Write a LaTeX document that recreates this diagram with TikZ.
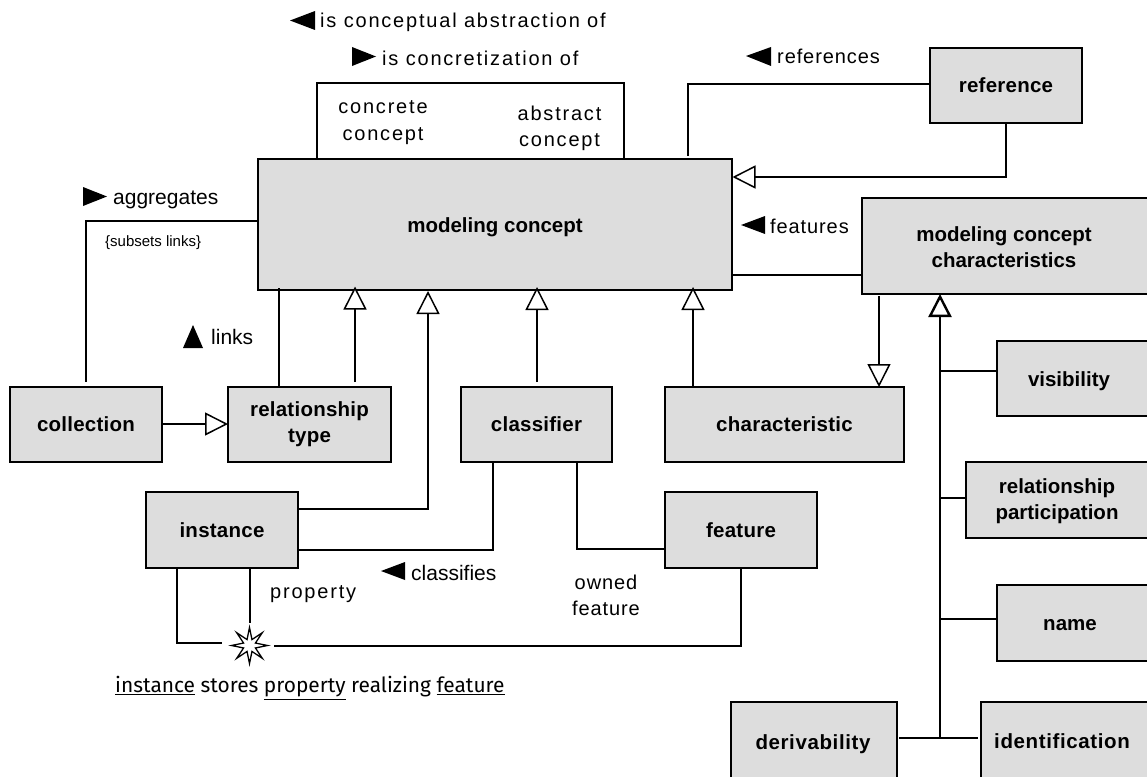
\documentclass[tikz,border=0pt]{standalone}
\usepackage{fontspec}
\setmainfont{Liberation Sans}
\newfontfamily\capfont{Fira Sans}
\usetikzlibrary{arrows.meta,shapes.geometric}
\definecolor{boxgray}{RGB}{221,221,221}
\tikzset{
  x=1pt,y=1pt,
  box/.style={draw=black,line width=1.5pt,fill=boxgray,anchor=north west,inner sep=0pt,outer sep=0pt,align=center,font=\fontsize{20.5}{26}\selectfont\bfseries\addfontfeatures{LetterSpace=1.2}},
  boxt/.style={inner sep=0pt,align=center,font=\fontsize{20.5}{26}\selectfont\bfseries},
  boxw/.style={inner sep=0pt,align=center,font=\fontsize{20.5}{26}\selectfont\bfseries\addfontfeatures{LetterSpace=3}},
  conn/.style={draw=black,line width=1.5pt},
  gen/.style={conn,-{Triangle[open,length=23pt,width=23pt,fill=white,line width=1.5pt]}},
  genthick/.style={draw=black,line width=2.4pt,-{Triangle[open,length=23pt,width=23pt,fill=white,line width=2.4pt]}},
  lbl/.style={inner sep=0pt,align=center,font=\fontsize{20}{26.5}\selectfont\addfontfeatures{LetterSpace=9}},
  lbln/.style={inner sep=0pt,align=center,font=\fontsize{20}{26.5}\selectfont\addfontfeatures{LetterSpace=4.5}},
  lblp/.style={inner sep=0pt,align=left,anchor=west,font=\fontsize{21}{26}\selectfont},
  tri/.style={fill=black,draw=none},
}
\begin{document}
\begin{tikzpicture}[yscale=-1]
\useasboundingbox (0,0) rectangle (1147,776);
% boxes
\node[box,minimum width=474pt,minimum height=131pt] (mc) at (258,159) {};
\node[boxt] (mct) at (495,227.5) {modeling concept};
\node[box,minimum width=152pt,minimum height=75pt] (ref) at (930,48) {reference};
\node[box,minimum width=290pt,minimum height=96pt] (mcc) at (862,198) {};
\node[boxt] (mcct) at (1004,247) {modeling concept\\characteristics};
\node[box,minimum width=160pt,minimum height=75pt] (vis) at (997,341) {};
\node[boxt] (vist) at (1069,381.5) {visibility};
\node[box,minimum width=190pt,minimum height=76pt] (rp) at (966,462) {};
\node[boxt] (rpt) at (1057,501.5) {relationship\\participation};
\node[box,minimum width=160pt,minimum height=76pt] (nm) at (997,585) {};
\node[boxt] (nmt) at (1070,625) {name};
\node[box,minimum width=175pt,minimum height=84pt] (ide) at (981,702) {};
\node[boxw] (idet) at (1062,741.5) {identification};
\node[box,minimum width=166pt,minimum height=84pt] (der) at (731,702) {};
\node[boxw] (dert) at (813,744) {derivability};
\node[box,minimum width=152pt,minimum height=75pt] (col) at (10,387) {collection};
\node[box,minimum width=163pt,minimum height=75pt] (rt) at (228,387) {relationship\\type};
\node[box,minimum width=151pt,minimum height=75pt] (cls) at (461,387) {classifier};
\node[box,minimum width=239pt,minimum height=75pt] (chr) at (665,387) {characteristic};
\node[box,minimum width=152pt,minimum height=76pt] (ins) at (146,492) {instance};
\node[box,minimum width=152pt,minimum height=76pt] (fea) at (665,492) {feature};
% star
\node[star,star points=8,star point ratio=2.8,minimum size=36pt,inner sep=0pt,draw=black,line width=1.3pt,fill=white] (st) at (249.5,645.5) {};
% connectors
\coordinate (a1) at (317,159); \coordinate (a2) at (624,159);
\draw[conn] (a1) -- (317,83) -- (624,83) -- (a2);
\draw[conn] (ref.west |- 0,84) -- (688,84) -- (688,156);
\draw[gen] (1006,123) -- (1006,177) -- (732.5,177);
\draw[conn] (mc.west |- 0,221) -- (86,221) -- (86,382);
\draw[conn] (279,288) -- (279,387);
\draw[gen] (355,382) -- (355,286.5);
\draw[gen] (col.east |- 0,424) -- (rt.west |- 0,424);
\draw[gen] (ins.east |- 0,509) -- (428,509) -- (428,291);
\draw[gen] (537,382) -- (537,287);
\draw[gen] (693,387) -- (693,287);
\draw[gen] (879,296) -- (879,387);
\draw[conn] (mc.east |- 0,275) -- (mcc.west |- 0,275);
\draw[conn] (ins.east |- 0,550) -- (493,550) -- (493,462);
\draw[conn] (577,462) -- (577,549) -- (fea.west |- 0,549);
\draw[conn] (177,568) -- (177,643) -- (222,643);
\draw[conn] (250,568) -- (250,623);
\draw[conn] (274,646) -- (741,646) -- (741,568);
\draw[genthick] (940,738) -- (940,294);
\draw[conn] (940,371) -- (vis.west |- 0,371);
\draw[conn] (940,498) -- (rp.west |- 0,498);
\draw[conn] (940,619) -- (nm.west |- 0,619);
\draw[conn] ([xshift=2pt]der.east |- 0,738) -- ([xshift=-3pt]ide.west |- 0,738);
% filled triangles
\fill[tri] (290,20.5) -- (315,11) -- (315,30) -- cycle;
\fill[tri] (352,47) -- (376,56.5) -- (352,66) -- cycle;
\fill[tri] (83,187) -- (107,196.5) -- (83,206) -- cycle;
\fill[tri] (746,56) -- (771,47) -- (771,66) -- cycle;
\fill[tri] (741,225) -- (765,216) -- (765,234) -- cycle;
\fill[tri] (183,348) -- (193,325) -- (203,348) -- cycle;
\fill[tri] (381,571) -- (405,562) -- (405,580) -- cycle;
% labels
\node[lbl,anchor=west] (l1) at (320,22) {is conceptual abstraction of};
\node[lbl,anchor=west] (l2) at (382,58) {is concretization of};
\node[lbl] (l3) at (383,122.5) {concrete\\concept};
\node[lbl] (l4) at (559.5,128.5) {abstract\\concept};
\node[lblp] (l5) at (113,200) {aggregates};
\node[inner sep=0pt,anchor=west,font=\fontsize{15}{17}\selectfont] (l6) at (105,243) {\{subsets links\}};
\node[lblp] (l7) at (211,337) {links};
\node[lbln,anchor=west] (l8) at (777,56) {references};
\node[lbln,anchor=west] (l9) at (770,226) {features};
\node[lblp] (l10) at (411,573) {classifies};
\node[lbl,anchor=west] (l11) at (270,594) {property};
\node[lbln] (l12) at (606,595.5) {owned\\feature};
\node[inner sep=0pt,anchor=west,font=\capfont\fontsize{20.9}{24}\selectfont] (l13) at (115,688) {\underline{instance} stores \underline{property} realizing \underline{feature}};
\end{tikzpicture}
\end{document}
